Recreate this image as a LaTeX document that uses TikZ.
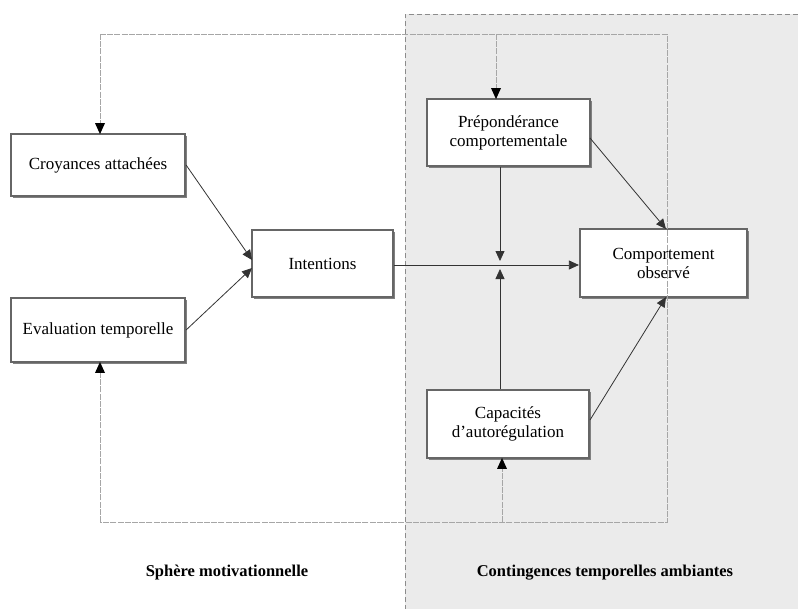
\documentclass[tikz,border=0pt]{standalone}
\usepackage{fontspec}
\setmainfont{Liberation Serif}
\usetikzlibrary{arrows.meta,shadows}
\begin{document}
\begin{tikzpicture}[x=1pt,y=-1pt,
  box/.style={draw=black!60, line width=2.2pt, fill=white, inner sep=2pt, align=center,
    font=\fontsize{17}{19}\selectfont,
    drop shadow={shadow xshift=1.8pt, shadow yshift=-1.8pt, fill=black!50, opacity=1}},
  conn/.style={draw=black!80, line width=0.8pt},
  tip/.style={-{Triangle[length=10pt,width=9pt]}},
  loop/.style={draw=black!35, line width=0.9pt, dash pattern=on 6pt off 1.2pt},
  zone/.style={draw=black!45, line width=0.8pt, dash pattern=on 5pt off 3pt},
  lab/.style={font=\bfseries\fontsize{16.5}{19}\selectfont}]
\useasboundingbox (0,0) rectangle (798,608);
% grey zone
\fill[black!8] (405,14) rectangle (800,610);
\draw[zone] (405,610) -- (405,14) -- (800,14);

% nodes
\node[box, minimum width=174pt, minimum height=62pt] (cro) at (98,165) {Croyances attachées};
\node[box, minimum width=174pt, minimum height=64pt] (eva) at (98,330) {Evaluation temporelle};
\node[box, minimum width=141pt, minimum height=67pt] (int) at (322.5,263.5) {Intentions};
\node[box, minimum width=163pt, minimum height=67pt] (pre) at (508.5,132.5) {Prépondérance\\comportementale};
\node[box, minimum width=167pt, minimum height=68pt] (com) at (663.5,263) {Comportement\\observé};
\node[box, minimum width=162pt, minimum height=68pt] (cap) at (508,424) {Capacités\\d’autorégulation};

% loop coordinates
\coordinate (tl) at (100,34);
\coordinate (tr) at (667,34);
\coordinate (bl) at (100,522);
\coordinate (br) at (667,522);
\coordinate (tb) at (496,34);
\coordinate (bb) at (502,522);
\coordinate (mid1) at (500,261);
\coordinate (mid2) at (500,269);

% feedback loops
\draw[loop] (tl) -- (tr) -- (br) -- (bl);
\draw[loop] (tl) -- (cro.north -| tl);
\draw[loop] (bl) -- (eva.south -| bl);
\draw[loop] (tb) -- (pre.north -| tb);
\draw[loop] (bb) -- (cap.south -| bb);
\fill[black] ([yshift=-1.2pt]cro.north -| tl) -- ++(-5,-11) -- ++(10,0) -- cycle;
\fill[black] ([yshift=1.2pt]eva.south -| bl) -- ++(-5,11) -- ++(10,0) -- cycle;
\fill[black] ([yshift=-1.2pt]pre.north -| tb) -- ++(-5,-11) -- ++(10,0) -- cycle;
\fill[black] ([yshift=1.2pt]cap.south -| bb) -- ++(-5,11) -- ++(10,0) -- cycle;

% connectors
\draw[conn, tip] (cro.east) -- (252,260);
\draw[conn, tip] (eva.east) -- (252,268);
\draw[conn, tip] (int.east |- 0,265) -- (com.west |- 0,265);
\draw[conn, tip] (pre.south -| mid1) -- (mid1);
\draw[conn, tip] (cap.north -| mid2) -- (mid2);
\draw[conn, tip] (590,138) -- (666,229);
\draw[conn, tip] (590,420) -- (666,297);

% zone labels
\node[lab] (l1) at (227,573) {Sphère motivationnelle};
\node[lab] (l2) at (605,573) {Contingences temporelles ambiantes};
\end{tikzpicture}
\end{document}
